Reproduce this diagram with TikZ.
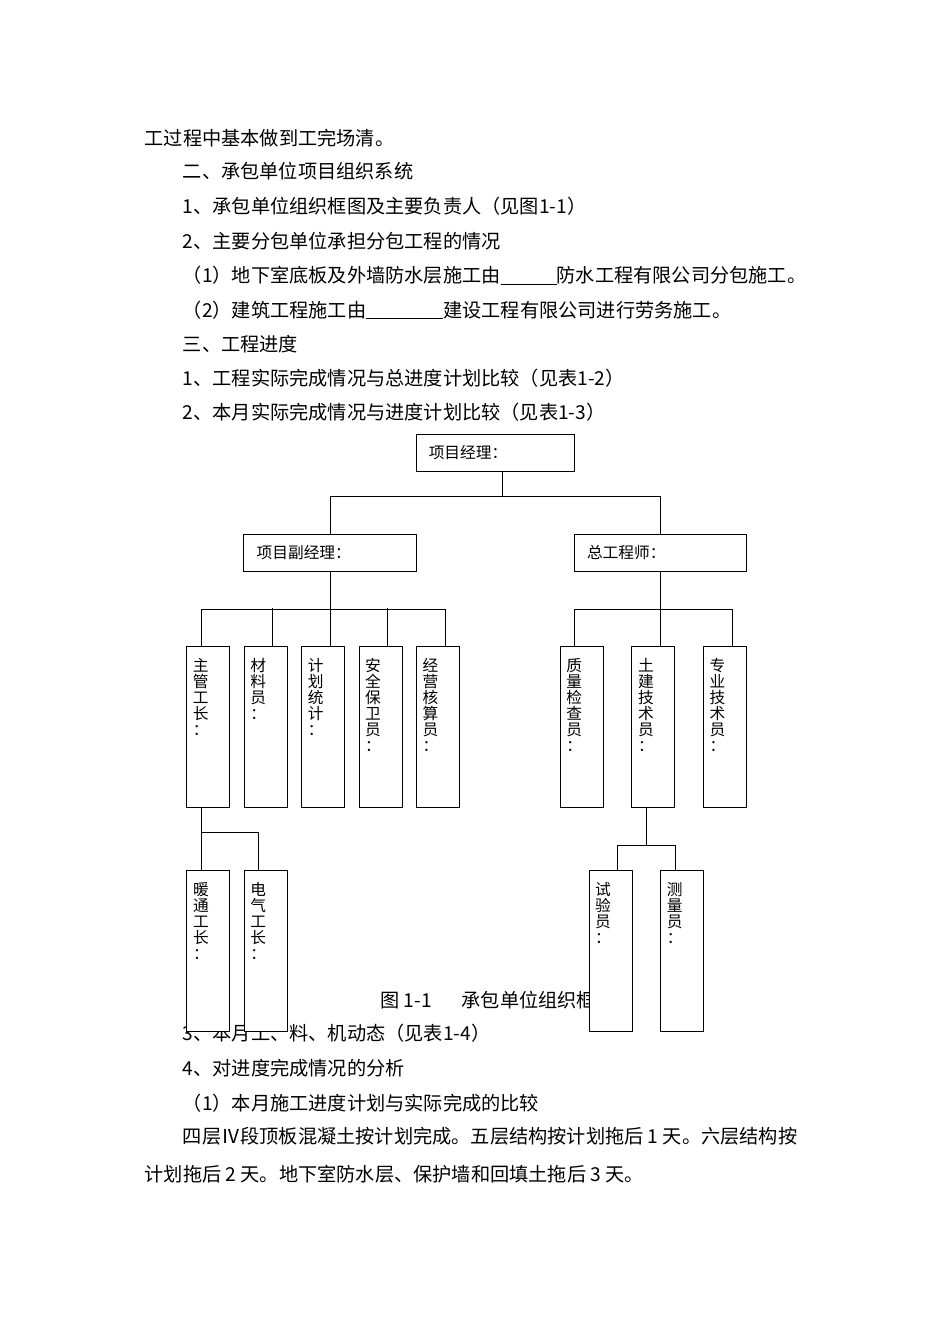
\documentclass[tikz,border=0pt]{standalone}
\usepackage{fontspec}
\setmainfont{Noto Sans CJK SC}

\newcommand\bodyfont{\fontsize{19.2pt}{23pt}\selectfont}
\newcommand\chartfont{\fontsize{15.7pt}{16pt}\selectfont}

\tikzset{
  para/.style={anchor=base west, inner sep=0pt, font=\bodyfont},
  head/.style={draw, fill=white, line width=1pt, minimum height=37pt, inner sep=0pt},
  post/.style={draw, fill=white, line width=1pt, minimum width=43pt, minimum height=161pt, inner sep=0pt},
  hlab/.style={anchor=west, inner sep=0pt, xshift=13pt, font=\chartfont},
  vlab/.style={anchor=north west, inner sep=0pt, xshift=6.5pt, yshift=-13pt, align=left, font=\chartfont},
  wire/.style={line width=0.9pt}
}

\begin{document}
\begin{tikzpicture}[x=1pt,y=-1pt]
        \useasboundingbox (0,0) rectangle (950,1344);
        \fill[white] (0,0) rectangle (950,1344);
        \foreach \y/\x/\txt in {145.3/144.5/{工过程中基本做到工完场清。},
                178.7/182.6/{二、承包单位项目组织系统},
                213.7/182.6/{1、承包单位组织框图及主要负责人（见图1-1）},
                248/182.6/{2、主要分包单位承担分包工程的情况},
                282.7/182.6/{（1）地下室底板及外墙防水层施工由\underline{\hspace{56pt}}防水工程有限公司分包施工。},
                317/182.6/{（2）建筑工程施工由\underline{\hspace{77pt}}建设工程有限公司进行劳务施工。},
                351/182.6/{三、工程进度},
                385.3/182.6/{1、工程实际完成情况与总进度计划比较（见表1-2）},
                419.7/182.6/{2、本月实际完成情况与进度计划比较（见表1-3）},
                1040.3/182.6/{3、本月工、料、机动态（见表1-4）},
                1075.3/182.6/{4、对进度完成情况的分析},
                1110.3/182.6/{（1）本月施工进度计划与实际完成的比较},
                1143.7/182.6/{四层Ⅳ段顶板混凝土按计划完成。五层结构按计划拖后 1 天。六层结构按},
                1181/144.5/{计划拖后 2 天。地下室防水层、保护墙和回填土拖后 3 天。}}
        \node[para] at (\x,\y) {\txt};
        \node[para] (cap) at (380,1007) {图 1-1\hspace{30pt}承包单位组织框};

        \node[head, minimum width=158.3pt, label={[hlab]west:项目经理：}] (pm) at (495.2,452.7) {};
        \node[head, minimum width=172.7pt, label={[hlab]west:项目副经理：}] (dpm) at (330.3,552.5) {};
        \node[head, minimum width=172.4pt, label={[hlab]west:总工程师：}] (ce) at (660.5,552.5) {};

        \foreach \n/\x/\y/\txt in {zg/208.2/726.5/{主\\管\\工\\长\\：},
                cl/265.7/726.5/{材\\料\\员\\：},
                jh/323.2/726.5/{计\\划\\统\\计\\：},
                aq/380.5/726.5/{安\\全\\保\\卫\\员\\：},
                jy/437.8/726.5/{经\\营\\核\\算\\员\\：},
                zl/581.7/726.5/{质\\量\\检\\查\\员\\：},
                tj/653.3/726.5/{土\\建\\技\\术\\员\\：},
                zy/725/726.5/{专\\业\\技\\术\\员\\：},
                nt/208.3/950.5/{暖\\通\\工\\长\\：},
                dq/265.7/950.5/{电\\气\\工\\长\\：},
                sy/610.5/950.5/{试\\验\\员\\：},
                clg/682.2/950.5/{测\\量\\员\\：}}
        \node[post, label={[vlab]north west:\txt}] (\n) at (\x,\y) {};

        \draw[wire] ([xshift=7.5pt]pm.south) -- ++(0,25) coordinate (pmb);
        \draw[wire] (dpm.north) |- (pmb) -| (ce.north);
        \draw[wire] (dpm.south) -- ++(0,37.7) coordinate (dpmb);
        \draw[wire] (ce.south) -- ++(0,37.7) coordinate (ceb);
        \draw[wire] ([xshift=-7.2pt]zg.north) |- (dpmb) -| ([xshift=7.5pt]jy.north);
        \foreach \n in {cl,jh,aq}
        \draw[wire] ([xshift=7.1pt]\n.north) -- ++(0,-37.3);
        \draw[wire] ([xshift=-7.4pt]zl.north) |- (ceb) -| ([xshift=7.3pt]zy.north);
        \draw[wire] ([xshift=7.4pt]tj.north) -- ++(0,-37.3);
        \draw[wire] ([xshift=-7.2pt]zg.south) -- ([xshift=-7.3pt]nt.north);
        \draw[wire] ([xshift=-7.2pt]zg.south) ++(0,25.4) -| ([xshift=-7.4pt]dq.north);
        \draw[wire] ([xshift=-7pt]tj.south) -- ++(0,37.7) coordinate (tjb);
        \draw[wire] ([xshift=6.8pt]sy.north) |- (tjb) -| ([xshift=-7.2pt]clg.north);
\end{tikzpicture}
\end{document}
